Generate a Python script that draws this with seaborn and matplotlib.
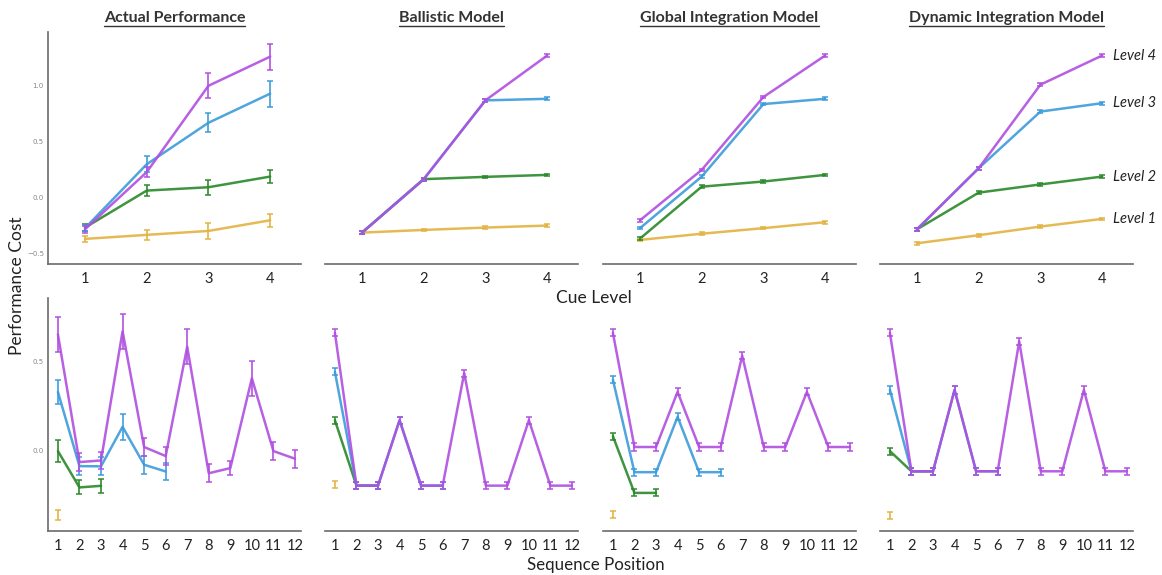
import pandas as pd
import seaborn as sns
import matplotlib.pyplot as plt
from matplotlib.lines import Line2D

levels = ['Level 1', 'Level 2', 'Level 3', 'Level 4']
colors = ['#E3B341', '#2A882A', '#3C9BDB', '#B04FE0']
titles = ['Actual Performance', 'Ballistic Model', 'Global Integration Model', 'Dynamic Integration Model']
cue_levels = [1, 2, 3, 4]
seq_ticks = list(range(1, 13))

# top row: performance cost by cue level (one list per level)
actual_cue = [[-0.366, -0.33, -0.295, -0.20],
              [-0.265, 0.065, 0.095, 0.19],
              [-0.27, 0.30, 0.67, 0.93],
              [-0.28, 0.23, 1.00, 1.26]]
actual_cue_err = [[0.03, 0.045, 0.07, 0.06],
                  [0.03, 0.05, 0.065, 0.06],
                  [0.03, 0.07, 0.085, 0.116],
                  [0.03, 0.045, 0.11, 0.115]]
ballistic_cue = [[-0.31, -0.286, -0.265, -0.247],
                 [-0.31, 0.167, 0.1875, 0.205],
                 [-0.31, 0.167, 0.87, 0.884],
                 [-0.31, 0.167, 0.87, 1.27]]
global_cue = [[-0.375, -0.32, -0.27, -0.217],
              [-0.363, 0.10, 0.146, 0.205],
              [-0.27, 0.19, 0.837, 0.884],
              [-0.20, 0.25, 0.90, 1.27]]
dynamic_cue = [[-0.405, -0.333, -0.256, -0.1875],
               [-0.28, 0.047, 0.12, 0.19],
               [-0.28, 0.265, 0.77, 0.845],
               [-0.28, 0.265, 1.01, 1.27]]

# bottom row: performance cost by sequence position
actual_seq = [[-0.365],
              [-0.004, -0.209, -0.20],
              [0.33, -0.089, -0.09, 0.133, -0.081, -0.119],
              [0.655, -0.066, -0.057, 0.672, 0.019, -0.032, 0.585, -0.129, -0.10, 0.407, -0.004, -0.047]]
actual_seq_err = [[0.028],
                  [0.06, 0.04, 0.04],
                  [0.07, 0.05, 0.05, 0.074, 0.05, 0.05],
                  [0.097, 0.05, 0.05, 0.10, 0.05, 0.05, 0.10, 0.05, 0.04, 0.10, 0.05, 0.05]]
ballistic_seq = [[-0.195],
                 [0.17, -0.199, -0.199],
                 [0.443, -0.199, -0.199, 0.17, -0.199, -0.199],
                 [0.663, -0.199, -0.199, 0.17, -0.199, -0.199, 0.436, -0.199, -0.199, 0.17, -0.199, -0.199]]
global_seq = [[-0.36],
              [0.08, -0.24, -0.24],
              [0.398, -0.123, -0.123, 0.189, -0.123, -0.123],
              [0.663, 0.019, 0.019, 0.33, 0.019, 0.019, 0.534, 0.019, 0.019, 0.33, 0.019, 0.019]]
dynamic_seq = [[-0.365],
               [-0.004, -0.118, -0.118],
               [0.341, -0.118, -0.118, 0.341, -0.118, -0.118],
               [0.663, -0.118, -0.118, 0.341, -0.118, -0.118, 0.615, -0.118, -0.118, 0.341, -0.118, -0.118]]

model_cue_err = 0.012
model_seq_err = 0.02


def to_frame(values, errs, default_err):
    rows = []
    for i, vals in enumerate(values):
        for k, v in enumerate(vals):
            e = errs[i][k] if errs is not None else default_err
            rows.append({'x': k + 1, 'y': v, 'err': e, 'level': levels[i]})
    return pd.DataFrame(rows)


sns.set_style('white')
plt.rcParams['font.family'] = ['Lato', 'DejaVu Sans']

W, H = 1162, 575
fig = plt.figure(figsize=(W / 100, H / 100), dpi=100)

lefts = [48, 325, 603, 880]
width = 253


def make_ax(left, top, bottom):
    return fig.add_axes([left / W, 1 - bottom / H, width / W, (bottom - top) / H])


def draw_panel(ax, df, first):
    sns.lineplot(data=df, x='x', y='y', hue='level', hue_order=levels, palette=colors,
                 errorbar=None, legend=False, linewidth=1.8, alpha=0.9, ax=ax)
    for lev, c in zip(levels, colors):
        sub = df[df['level'] == lev]
        ax.errorbar(sub['x'], sub['y'], yerr=sub['err'], fmt='none', ecolor=c,
                    elinewidth=1.3, capsize=2.5, capthick=1.2, alpha=0.9)
    sns.despine(ax=ax, left=not first)
    for s in ['bottom', 'left']:
        ax.spines[s].set_color('#6b6b6b')
        ax.spines[s].set_linewidth(1.2)
    ax.set_xlabel('')
    ax.set_ylabel('')
    ax.tick_params(axis='x', labelsize=10.5, colors='#6b6b6b', labelcolor='#222222',
                   length=3, width=0.8, pad=3)
    if first:
        ax.tick_params(axis='y', labelsize=5, colors='#888888', length=2, width=0.6, pad=1)
        for lbl in ax.get_yticklabels():
            lbl.set_family('DejaVu Sans')
    else:
        ax.set_yticks([])


top_sets = [(actual_cue, actual_cue_err), (ballistic_cue, None),
            (global_cue, None), (dynamic_cue, None)]
bot_sets = [(actual_seq, actual_seq_err), (ballistic_seq, None),
            (global_seq, None), (dynamic_seq, None)]

top_axes = []
for i, (vals, errs) in enumerate(top_sets):
    ax = make_ax(lefts[i], 32, 264)
    ax.set_xlim(0.4, 4.5)
    ax.set_ylim(-0.59, 1.48)
    ax.set_xticks(cue_levels)
    if i == 0:
        ax.set_yticks([-0.5, 0.0, 0.5, 1.0])
    draw_panel(ax, to_frame(vals, errs, model_cue_err), i == 0)
    top_axes.append(ax)

for i, (vals, errs) in enumerate(bot_sets):
    ax = make_ax(lefts[i], 298, 531)
    ax.set_xlim(0.54, 12.28)
    ax.set_ylim(-0.455, 0.86)
    ax.set_xticks(seq_ticks)
    if i == 0:
        ax.set_yticks([0.0, 0.5])
    draw_panel(ax, to_frame(vals, errs, model_seq_err), i == 0)

# level labels on the right of the dynamic model panel
last = top_axes[-1]
for lev, vals in zip(levels, dynamic_cue):
    last.annotate(lev, xy=(4, vals[-1]), xytext=(8, 0), textcoords='offset points',
                  ha='left', va='center', fontsize=10.5, style='italic',
                  color='#222222', annotation_clip=False)

# panel titles, underlined
title_texts = []
for i, t in enumerate(titles):
    cx = (lefts[i] + width / 2) / W
    title_texts.append(fig.text(cx, 1 - 18 / H, t, ha='center', va='center',
                                fontsize=11.5, fontweight='bold', color='#333333'))

fig.text(594 / W, 1 - 298 / H, 'Cue Level', ha='center', va='center', fontsize=12.5, color='#222222')
fig.text(596 / W, 1 - 565 / H, 'Sequence Position', ha='center', va='center', fontsize=12.2, color='#222222')
fig.text(17 / W, 1 - 286 / H, 'Performance Cost', ha='center', va='center', rotation=90,
         fontsize=12.5, color='#222222')

fig.canvas.draw()
renderer = fig.canvas.get_renderer()
for txt in title_texts:
    bb = txt.get_window_extent(renderer)
    y = (bb.y0 - 1) / H
    fig.add_artist(Line2D([bb.x0 / W, bb.x1 / W], [y, y], transform=fig.transFigure,
                          color='#333333', linewidth=1.0))

fig.savefig('out.png', dpi=100)
